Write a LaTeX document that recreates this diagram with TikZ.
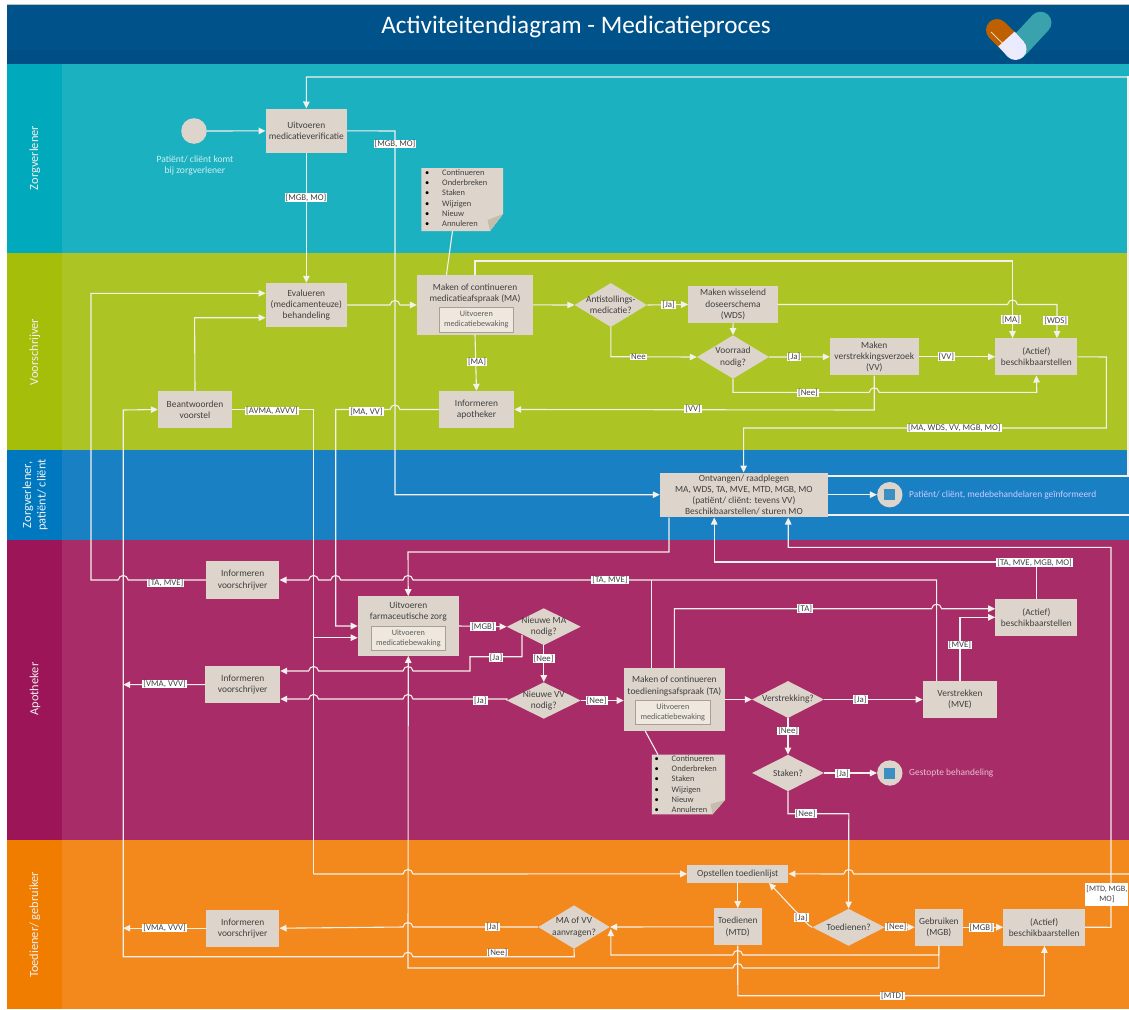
\documentclass[tikz,border=0pt]{standalone}
\usepackage{fontspec}
\setmainfont{Carlito}
\usetikzlibrary{arrows.meta,shapes.geometric}
\definecolor{hdr}{HTML}{00528A}
\definecolor{hdrb}{HTML}{004F84}
\definecolor{teal}{HTML}{1BB1C1}\definecolor{tealb}{HTML}{00A9BB}
\definecolor{grn}{HTML}{ACC524}\definecolor{grnb}{HTML}{A5BE0A}
\definecolor{blu}{HTML}{1A80C4}\definecolor{blub}{HTML}{0078C0}
\definecolor{mag}{HTML}{A82C68}\definecolor{magb}{HTML}{9C1558}
\definecolor{ora}{HTML}{F3891C}\definecolor{orab}{HTML}{F17D00}
\definecolor{boxc}{HTML}{DDD5CC}\definecolor{btn}{HTML}{EFE8DE}\definecolor{foldc}{HTML}{C6BCAE}
\definecolor{flow}{HTML}{F4F1EC}\definecolor{ink}{HTML}{404040}\definecolor{stopc}{HTML}{3C8FC0}
\definecolor{btne}{HTML}{A8A094}
\tikzset{
  lanetxt/.style={rotate=90,text=white!88!gray,font=\fontsize{12.4}{14.5}\selectfont,align=center},
  boxn/.style={fill=boxc,inner sep=0pt,text=ink,align=center,font=\fontsize{9.4}{11.2}\selectfont},
  btnn/.style={fill=btn,draw=btne,line width=1pt,inner sep=0pt,text=ink!85,align=center,font=\fontsize{8.2}{10}\selectfont},
  dian/.style={diamond,fill=boxc,inner sep=0pt,shape aspect=1.7},
  diatxt/.style={text=ink,align=center,inner sep=0pt,font=\fontsize{9.4}{11.2}\selectfont},
  flowl/.style={draw=flow,line width=1.1pt},
  arr/.style={flowl,-{Triangle[length=7pt,width=6.5pt,fill=flow]}},
  lbl/.style={fill=white,text=ink,inner xsep=1pt,inner ysep=.6pt,align=center,font=\fontsize{8.8}{10}\selectfont},
  notetxt/.style={text=ink,anchor=north west,inner sep=0pt,align=left,font=\fontsize{8.4}{10.2}\selectfont},
  infotxt/.style={text=white!80!blue,anchor=west,inner sep=0pt,font=\fontsize{9.4}{11}\selectfont},
  endc/.style={ellipse,fill=boxc,minimum width=25.4pt,minimum height=25.4pt,inner sep=0pt}
}
\newcommand{\bxx}[6]{\node[boxn,minimum width={(#4-#2)*1pt},minimum height={(#5-#3)*1pt}] (#1) at ({(#2+#4)/2},{(#3+#5)/2}) {#6};}
\newcommand{\btnx}[6]{\node[btnn,minimum width={(#4-#2)*1pt},minimum height={(#5-#3)*1pt}] (#1) at ({(#2+#4)/2},{(#3+#5)/2}) {#6};}
\newcommand{\diax}[6]{\node[dian,minimum width={#4*1pt},minimum height={#5*1pt},label={[diatxt]center:#6}] (#1) at (#2,#3) {};}
\newcommand{\jr}[2]{-- ({#1-5},#2) .. controls ({#1-4},{#2-6}) and ({#1+4},{#2-6}) .. ({#1+5},#2)}
\newcommand{\jl}[2]{-- ({#1+5},#2) .. controls ({#1+4},{#2-6}) and ({#1-4},{#2-6}) .. ({#1-5},#2)}
\newcommand{\lab}[4]{\node[lbl] (#1) at (#2,#3) {#4};}
\newcommand{\nlist}{\makebox[17pt][l]{\textcolor{black}{•}}Continueren\\\makebox[17pt][l]{\textcolor{black}{•}}Onderbreken\\\makebox[17pt][l]{\textcolor{black}{•}}Staken\\\makebox[17pt][l]{\textcolor{black}{•}}Wijzigen\\\makebox[17pt][l]{\textcolor{black}{•}}Nieuw\\\makebox[17pt][l]{\textcolor{black}{•}}Annuleren}
\begin{document}
\begin{tikzpicture}[x=1pt,y=-1pt]
\useasboundingbox (0,0) rectangle (1129,1009);
\clip (0,0) rectangle (1129,1009);
% lanes
\fill[white] (0,0) rectangle (1129,1009);
\fill[gray!50] (7,3.5) rectangle (1129,4.5);
\fill[hdr] (7,4.5) rectangle (1129,50);
\fill[hdrb] (7,50) rectangle (1129,64);
\fill[teal] (62,64) rectangle (1129,253);\fill[tealb] (7,64) rectangle (62,253);
\fill[grn] (62,253) rectangle (1129,450);\fill[grnb] (7,253) rectangle (62,450);
\fill[blu] (62,450) rectangle (1129,540);\fill[blub] (7,450) rectangle (62,540);
\fill[mag] (62,540) rectangle (1129,840);\fill[magb] (7,540) rectangle (62,840);
\fill[ora] (62,840) rectangle (1129,1009);\fill[orab] (7,840) rectangle (62,1009);
\node[text=white,font=\fontsize{25.2}{28}\selectfont,inner sep=0pt] (title) at (576,27) {Activiteitendiagram - Medicatieproces};
% logo
\draw[line width=22pt,line cap=round,color=teal!70!gray] (1017,48) -- (1040.5,22.7);
\draw[line width=22pt,line cap=round,color=orange!75!black] (997,30) -- (1010,43);
\draw[line width=22pt,color=blue!8!white] (1006.5,39) -- (1015.5,49);
\fill[blue!8!white] (1015.5,49) circle (11);
\draw[line width=.7pt,color=white!85!orange] (991,32) -- (1013.6,54);
% lane titles
\node[lanetxt] (lz) at (35,158) {Zorgverlener};
\node[lanetxt] (lv) at (35,352) {Voorschrijver};
\node[lanetxt] (lp) at (35,495) {Zorgverlener,\\patiënt/ cliënt};
\node[lanetxt] (la) at (35,689) {Apotheker};
\node[lanetxt] (lt) at (35,925) {Toediener/ gebruiker};
% nodes
\node[circle,fill=boxc,minimum size=25.6pt,inner sep=0pt] (start) at (194,131) {};
\node[text=white!78!teal,align=center,inner sep=0pt,font=\fontsize{9.6}{11.2}\selectfont] (starttxt) at (195,165.5) {Patiënt/ cliënt komt\\bij zorgverlener};
\bxx{uv}{265.7}{108.7}{347}{153}{Uitvoeren\\medicatieverificatie}
\bxx{ev}{265.7}{283}{347}{327}{Evalueren\\(medicamenteuze)\\behandeling}
\bxx{ma}{417}{275.3}{533}{334.5}{}
\node[diatxt] (mat) at (475,293.5) {Maken of continueren\\medicatieafspraak (MA)};
\btnx{mab}{439}{307.5}{513.6}{332}{Uitvoeren\\medicatiebewaking}
\bxx{ia}{439}{391}{514}{428}{Informeren\\apotheker}
\bxx{be}{158}{391}{232}{428}{Beantwoorden\\voorstel}
\diax{an}{610.8}{305}{72.5}{44}{Antistollings-\\medicatie?}
\bxx{wd}{688.4}{286}{777.7}{323}{Maken wisselend\\doseerschema\\(WDS)}
\diax{vo}{733}{357}{72}{43.5}{Voorraad\\nodig?}
\bxx{vv}{830}{338.3}{918.5}{375.3}{Maken\\verstrekkingsverzoek\\(VV)}
\bxx{ac}{995.4}{338.3}{1077.4}{375.3}{(Actief)\\beschikbaarstellen}
\bxx{on}{660}{472.7}{827.8}{517.3}{Ontvangen/ raadplegen\\MA, WDS, TA, MVE, MTD, MGB, MO\\(patiënt/ cliënt: tevens VV)\\Beschikbaarstellen/ sturen MO}
\node[endc] (e1) at (889.8,494.7) {};
\fill[stopc] (884.3,489.2) rectangle (895.3,500.2);
\node[infotxt] (e1t) at (909,494.7) {Patiënt/ cliënt, medebehandelaren geïnformeerd};
\bxx{i1}{206}{561.3}{279.3}{598.7}{Informeren\\voorschrijver}
\bxx{fz}{357.9}{596.3}{458.6}{655.7}{}
\node[diatxt] (fzt) at (408.3,611.5) {Uitvoeren\\farmaceutische zorg};
\btnx{fzb}{371}{626}{445.7}{650.7}{Uitvoeren\\medicatiebewaking}
\diax{nm}{543.8}{626.7}{74}{37}{Nieuwe MA\\nodig?}
\diax{nv}{543.8}{700.5}{74}{36.5}{Nieuwe VV\\nodig?}
\bxx{i2}{205.4}{666}{280}{703.3}{Informeren\\voorschrijver}
\bxx{ta}{623.9}{668}{725}{731}{}
\node[diatxt] (tat) at (674.4,686) {Maken of continueren\\toedieningsafspraak (TA)};
\btnx{tab}{635}{700}{710.6}{724.3}{Uitvoeren\\medicatiebewaking}
\diax{vs}{788}{699.5}{72}{37}{Verstrekking?}
\bxx{ve}{922.8}{681}{997.2}{718}{Verstrekken\\(MVE)}
\bxx{a2}{995.4}{599}{1077.4}{636}{(Actief)\\beschikbaarstellen}
\diax{st}{788}{773}{72}{36.5}{Staken?}
\node[endc] (e2) at (889.8,773) {};
\fill[stopc] (884.3,767.5) rectangle (895.3,778.5);
\node[infotxt,text=white!70!mag] (e2t) at (909,773) {Gestopte behandeling};
\bxx{op}{687.4}{865}{788.2}{882.7}{Opstellen toedienlijst}
\bxx{to}{713.8}{908.3}{761.7}{945.3}{Toedienen\\(MTD)}
\diax{td}{848.6}{927.3}{72.5}{37}{Toedienen?}
\bxx{ge}{914.9}{908.7}{962.8}{945.7}{Gebruiken\\(MGB)}
\bxx{a3}{1003.4}{908.7}{1085}{945.7}{(Actief)\\beschikbaarstellen}
\diax{mv}{574}{927}{71.6}{43.4}{MA of VV\\aanvragen?}
\bxx{i3}{206}{909.7}{279.3}{946.7}{Informeren\\voorschrijver}
% notes
\fill[boxc] (421.4,168) -- (503,168) -- (503,214) -- (490,231) -- (421.4,231) -- cycle;
\fill[foldc] (490,231) -- (503,214) -- (487.5,220) -- cycle;
\node[notetxt] (n1) at (425,169.5) {\nlist};
\fill[boxc] (651.8,754.7) -- (725,754.7) -- (725,800) -- (712.5,814.3) -- (651.8,814.3) -- cycle;
\fill[foldc] (712.5,814.3) -- (725,800) -- (710.5,804) -- cycle;
\node[notetxt] (n2) at (654.5,755.5) {\nlist};
% connectors
\draw[arr] (start) -- (uv);
\draw[flowl] (1129,77) -- (1128,77) -- (1128,476) -- (on.east |- 0,476);
\draw[arr] (1128,77) -- (306.4,77) -- (uv.north);
\draw[arr] (uv.south) -- (ev.north);
\draw[arr] (uv.east) -- (395,131) -- (395,494.7) -- (on.west |- 0,494.7);
\draw[arr] (ev.east) \jr{395}{305} -- (ma.west);
\draw[flowl] (452.5,231) -- (ma.north -| 446.4,0);
\draw[arr] (ma.north) -- (475,261) -- (1012.5,261) -- (ac.north -| 1012.5,0);
\draw[arr] (ma.east) -- (an.west);
\draw[arr] (an.east) -- (wd.west);
\draw[arr] (wd.east) \jr{1012.5}{304.5} -- (1057,304.5) -- (ac.north -| 1057,0);
\draw[arr] (wd.south) -- (vo.north);
\draw[arr] (an.south) -- (610.8,356.7) -- (vo.west);
\draw[arr] (vo.east) -- (vv.west);
\draw[arr] (vv.east) -- (ac.west);
\draw[arr] (vo.south) -- (733,392.3) \jr{874.2}{392.3} -- (1036.8,392.3) -- (ac.south);
\draw[arr] (vv.south) -- (874.2,410) -- (ia.east);
\draw[arr] (ma.south) -- (ia.north);
\draw[arr] (ia.west) \jl{395}{409.5} -- (335.7,409.5) -- (335.7,626) -- (fz.west |- 0,626);
\draw[flowl] (be.east) -- (313.6,409.5) -- (313.6,874);
\draw[arr] (313.6,874) \jr{408}{874} -- (op.west);
\draw[arr] (313.6,637.7) -- (fz.west |- 0,637.7);
\draw[arr] (be.north) -- (194.6,317.7) -- (ev.west |- 0,317.7);
\draw[arr] (i1.west) \jl{123.2}{580} -- (91,580) -- (91,293.3) -- (ev.west |- 0,293.3);
\draw[arr] (ve.north -| 936.6,0) -- (936.6,580) -- (651.4,580) \jl{408}{580} \jl{335.7}{580} \jl{313.6}{580} -- (i1.east);
\draw[flowl] (ta.north -| 651.4,0) -- (651.4,580);
\draw[arr] (on.south -| 669,0) -- (669,552) -- (408,552) -- (fz.north);
\draw[arr] (fz.east) -- (nm.west);
\draw[arr] (522,635) -- (522,656.7) -- (470,656.7) -- (470,671) \jl{408}{671} \jl{313.6}{671} -- (i2.east |- 0,671);
\draw[arr] (nm.south) -- (nv.north);
\draw[arr] (nv.west) -- (507,699) \jl{408}{699} \jl{313.6}{699} -- (i2.east |- 0,699);
\draw[arr] (i2.west) -- (123.2,684.6);
\draw[arr] (nv.east) -- (ta.west |- nv.east);
\draw[arr] (ta.east |- vs.west) -- (vs.west);
\draw[arr] (ta.north -| 674.3,0) -- (674.3,608.7) \jr{936.6}{608.7} -- (a2.west |- 0,608.7);
\draw[arr] (ve.north -| 960,0) -- (960,617.3) -- (a2.west |- 0,617.3);
\draw[arr] (vs.east) -- (ve.west |- vs.east);
\draw[arr] (vs.south) -- (st.north);
\draw[arr] (st.east) -- (e2.west);
\draw[arr] (on.east |- e1.west) -- (e1.west);
\draw[flowl] (on.east |- 0,515) -- (1129,515);
\draw[arr] (a2.north -| 1036.8,0) -- (1036.8,562) -- (714.2,562) -- (on.south -| 714.2,0);
\draw[arr] (ac.east) -- (1106.4,357) -- (1106.4,428) -- (743.6,428) -- (on.north -| 743.6,0);
\draw[arr] (a3.east) -- (1111,927.3) -- (1111,547.3) -- (788.2,547.3) -- (on.south -| 788.2,0);
\draw[flowl] (ta.south -| 645.3,0) -- (658,754.7);
\draw[arr] (st.south) -- (788,813.7) -- (848.8,813.7) -- (td.north);
\draw[arr] (1129,874) \jl{848.8}{874} -- (op.east);
\draw[arr] (op.south -| to.north) -- (to.north);
\draw[arr] (td.west) -- (808.5,925) -- (op.south -| 769,0);
\draw[arr] (td.east) -- (ge.west);
\draw[arr] (ge.east) -- (a3.west);
\draw[arr] (to.west) -- (mv.east);
\draw[arr] (mv.west) \jl{408}{927} -- (i3.east);
\draw[arr] (i3.west) -- (123.2,928.2);
\draw[arr] (mv.south) -- (574.3,956.7) \jl{408}{956.7} -- (123.2,956.7) -- (123.2,410) -- (be.west);
\draw[arr] (ge.south -| 938.8,0) -- (938.8,955) \jl{737.8}{955} -- (610.8,955) -- (610.8,929);
\draw[arr] (ge.south -| 938.8,0) -- (938.8,968) \jl{737.8}{968} -- (408,968) -- (fz.south);
\draw[arr] (to.south) -- (737.8,995.7) -- (1044.4,995.7) -- (a3.south -| 1044.4,0);
% labels
\lab{l01}{395}{144}{[MGB, MO]}
\lab{l02}{306}{197.5}{[MGB, MO]}
\lab{l03}{477}{362}{[MA]}
\lab{l04}{272}{411}{[AVMA, AVVV]}
\lab{l05}{366.4}{411.5}{[MA, VV]}
\lab{l06}{668.5}{305}{[Ja]}
\lab{l07}{638.4}{357}{Nee}
\lab{l08}{794}{357}{[Ja]}
\lab{l09}{946.4}{356.5}{[VV]}
\lab{l10}{1011}{319.5}{[MA]}
\lab{l11}{1055.7}{320.5}{[WDS]}
\lab{l12}{808}{393}{[Nee]}
\lab{l13}{693}{409}{[VV]}
\lab{l14}{954.4}{428}{[MA, WDS, VV, MGB, MO]}
\lab{l15}{165.7}{583}{[TA, MVE]}
\lab{l16}{610}{580}{[TA, MVE]}
\lab{l17}{482.9}{626.7}{[MGB]}
\lab{l18}{496}{657.5}{[Ja]}
\lab{l19}{543.6}{658.5}{[Nee]}
\lab{l20}{480.4}{700.7}{[Ja]}
\lab{l21}{164.6}{684}{[VMA, VVV]}
\lab{l22}{596.6}{700.7}{[Nee]}
\lab{l23}{805}{608.7}{[TA]}
\lab{l24}{860.4}{699.7}{[Ja]}
\lab{l25}{960}{645}{[MVE]}
\lab{l26}{1034.6}{562.5}{[TA, MVE, MGB, MO]}
\lab{l27}{788.2}{731}{[Nee]}
\lab{l28}{842.6}{773.5}{[Ja]}
\lab{l29}{805.6}{813.7}{[Nee]}
\lab{l30}{801.3}{917.7}{[Ja]}
\lab{l31}{896.4}{927}{[Nee]}
\lab{l32}{981.3}{927.5}{[MGB]}
\lab{l33}{892.4}{996}{[MTD]}
\lab{l34}{492.5}{927}{[Ja]}
\lab{l35}{497.5}{953}{[Nee]}
\lab{l36}{164.6}{928}{[VMA, VVV]}
\node[lbl,anchor=east,minimum height=22.5pt,inner xsep=1pt,font=\fontsize{8.2}{10}\selectfont] (l37) at (1128.5,894.5) {[MTD, MGB,\\MO]};
\end{tikzpicture}
\end{document}
